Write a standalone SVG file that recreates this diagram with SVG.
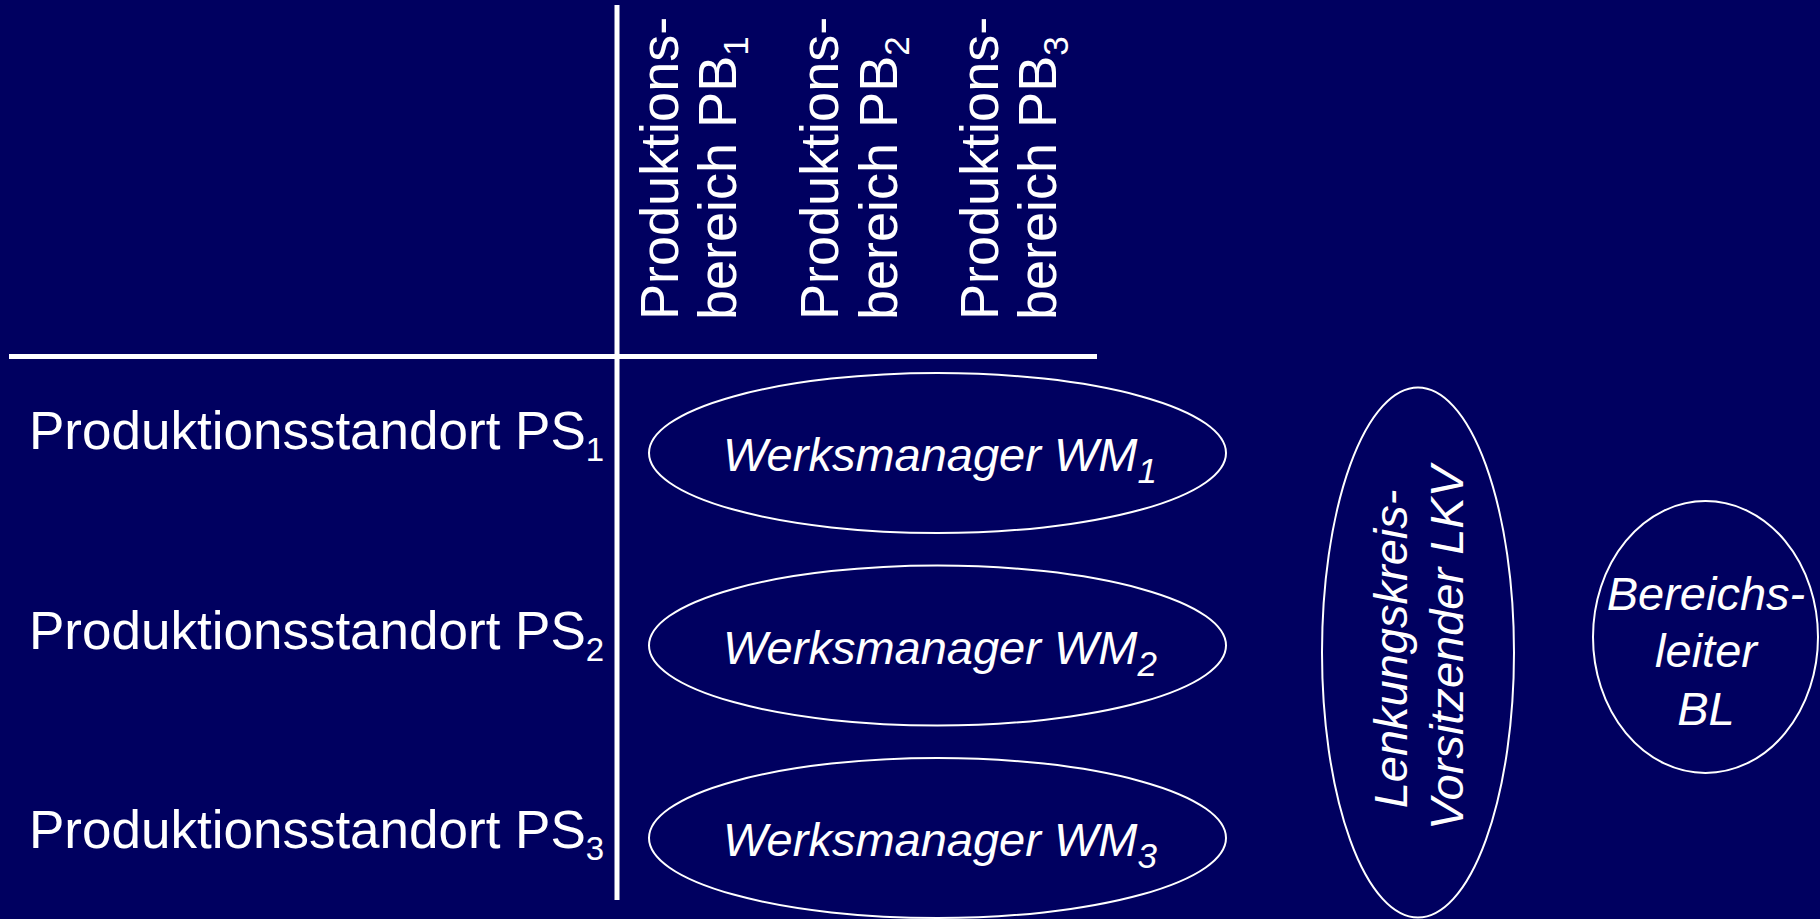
<svg xmlns="http://www.w3.org/2000/svg" width="1820" height="919" viewBox="0 0 1820 919">
  <style>
    .bg { fill: #000060; }
    .axis { stroke: #ffffff; stroke-width: 5; fill: none; }
    .node { fill: none; stroke: #ffffff; stroke-width: 2; }
    .lbl { font-family: "Liberation Sans", Arial, sans-serif; font-size: 54px; fill: #ffffff; }
    .row { font-size: 53px; }
    .it { font-family: "Liberation Sans", Arial, sans-serif; font-size: 47px; font-style: italic; fill: #ffffff; }
    .sub { font-size: 35px; }
    .rsub { font-size: 33px; }
  </style>

  <rect class="bg" x="0" y="0" width="1820" height="919"/>

  <!-- matrix axes -->
  <g id="axes">
    <line class="axis" x1="617" y1="5" x2="617" y2="900"/>
    <line class="axis" x1="9" y1="356.5" x2="1097" y2="356.5"/>
  </g>

  <!-- column headers (production areas) -->
  <g id="pb1">
    <text class="lbl" transform="translate(678,320) rotate(-90)">Produktions-</text>
    <text class="lbl" transform="translate(736,320) rotate(-90)">bereich PB<tspan class="sub" dy="12">1</tspan></text>
  </g>
  <g id="pb2">
    <text class="lbl" transform="translate(838,320) rotate(-90)">Produktions-</text>
    <text class="lbl" transform="translate(897,320) rotate(-90)">bereich PB<tspan class="sub" dy="12">2</tspan></text>
  </g>
  <g id="pb3">
    <text class="lbl" transform="translate(998,320) rotate(-90)">Produktions-</text>
    <text class="lbl" transform="translate(1056,320) rotate(-90)">bereich PB<tspan class="sub" dy="12">3</tspan></text>
  </g>

  <!-- row headers (production sites) -->
  <g id="ps1">
    <text class="lbl row" x="29" y="449">Produktionsstandort PS<tspan class="rsub" dy="12">1</tspan></text>
  </g>
  <g id="ps2">
    <text class="lbl row" x="29" y="649">Produktionsstandort PS<tspan class="rsub" dy="12">2</tspan></text>
  </g>
  <g id="ps3">
    <text class="lbl row" x="29" y="848">Produktionsstandort PS<tspan class="rsub" dy="12">3</tspan></text>
  </g>

  <!-- plant managers -->
  <g id="wm1">
    <ellipse class="node" cx="937.5" cy="453" rx="288.5" ry="80"/>
    <text class="it" x="940" y="471" text-anchor="middle">Werksmanager WM<tspan class="sub" dy="12">1</tspan></text>
  </g>
  <g id="wm2">
    <ellipse class="node" cx="937.5" cy="645.5" rx="288.5" ry="80"/>
    <text class="it" x="940" y="663.5" text-anchor="middle">Werksmanager WM<tspan class="sub" dy="12">2</tspan></text>
  </g>
  <g id="wm3">
    <ellipse class="node" cx="937.5" cy="838" rx="288.5" ry="80"/>
    <text class="it" x="940" y="856" text-anchor="middle">Werksmanager WM<tspan class="sub" dy="12">3</tspan></text>
  </g>

  <!-- steering committee chair -->
  <g id="lkv">
    <ellipse class="node" cx="1418" cy="652.5" rx="96" ry="265"/>
    <text class="it" transform="translate(1407,649) rotate(-90)" text-anchor="middle">Lenkungskreis-</text>
    <text class="it" transform="translate(1463,648) rotate(-90)" text-anchor="middle">Vorsitzender LKV</text>
  </g>

  <!-- division head -->
  <g id="bl">
    <ellipse class="node" cx="1705.5" cy="637" rx="112.5" ry="136"/>
    <text class="it" x="1706" y="610" text-anchor="middle">Bereichs-</text>
    <text class="it" x="1706" y="667" text-anchor="middle">leiter</text>
    <text class="it" x="1706" y="725" text-anchor="middle">BL</text>
  </g>
</svg>
